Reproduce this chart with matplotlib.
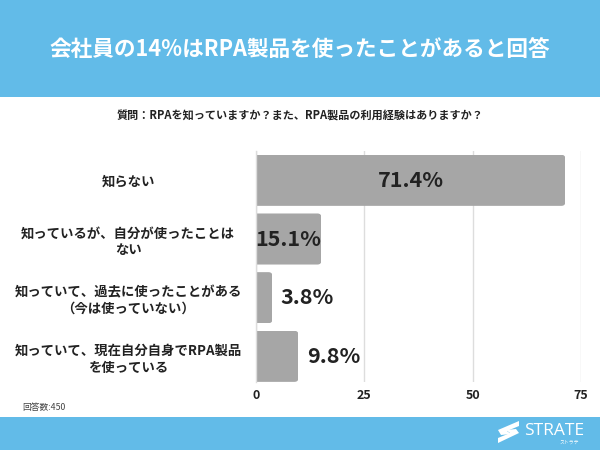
import matplotlib
matplotlib.use("Agg")
import matplotlib.pyplot as plt
from matplotlib.patches import FancyBboxPatch, Rectangle, Polygon

categories = ["知らない",
              "知っているが、自分が使ったことは\nない",
              "知っていて、過去に使ったことがある\n（今は使っていない）",
              "知っていて、現在自分自身でRPA製品\nを使っている"]
values = [71.4, 15.1, 3.8, 9.8]
value_labels = ["71.4%", "15.1%", "3.8%", "9.8%"]
xticks = [0, 25, 50, 75]
title = "会社員の14%はRPA製品を使ったことがあると回答"
question = "質問：RPAを知っていますか？また、RPA製品の利用経験はありますか？"
note = "回答数:450"

BLUE = "#62BBE8"
BAR = "#A6A6A6"
TXT = "#222222"
W, H = 600, 450
plt.rcParams["font.family"] = "Noto Sans CJK JP"

fig = plt.figure(figsize=(6, 4.5), dpi=100, facecolor="white")
def fx(p): return p / W
def fy(p): return 1 - p / H

fig.add_artist(Rectangle((0, fy(97)), 1, 97 / H, transform=fig.transFigure, color=BLUE, lw=0))
fig.add_artist(Rectangle((0, 0), 1, 33 / H, transform=fig.transFigure, color=BLUE, lw=0))
fig.text(0.5, fy(50), title, color="white", fontsize=15.6, fontweight="bold", ha="center", va="center")
fig.text(fx(300), fy(116), question, color=TXT, fontsize=8, fontweight="bold", ha="center", va="center")
fig.text(fx(22), fy(407.5), note, color="#444444", fontsize=6.3, ha="left", va="center")

# logo
for pts in ([(498, 430), (519, 421), (519, 426), (507, 431), (511, 434), (501, 435)],
            [(519, 433), (498, 443), (498, 438), (510, 433), (506, 430), (516, 429)]):
    fig.add_artist(Polygon([(fx(a), fy(b)) for a, b in pts], transform=fig.transFigure, color="white", lw=0))
fig.text(fx(524), fy(431), "STRATE", color="white", fontsize=12.5, ha="left", va="center", family="Open Sans")
fig.text(fx(579), fy(442), "ストラテ", color="white", fontsize=3.5, ha="right", va="center")

L, R, T, B = 256, 581, 151, 382
ax = fig.add_axes([fx(L), fy(B), (R - L) / W, (B - T) / H])
n = len(values)
pitch = 58.67
ax.set_xlim(0, 75)
ax.set_ylim((B - T) / pitch - 0.5, -0.5)
ax.set_axisbelow(True)
ax.grid(axis="x", color="#DDDDDD", lw=1)
for s in ["top", "right", "bottom"]:
    ax.spines[s].set_visible(False)
ax.spines["left"].set_color("#DDDDDD")
ax.spines["left"].set_linewidth(1)

xpx = (R - L) / 75
bh = 0.87
rad = 4
bars = ax.barh(range(n), values, height=bh, color=BAR, lw=0)
for i, (bar, v) in enumerate(zip(bars, values)):
    clip = FancyBboxPatch((-3, i - bh / 2), v + 3, bh,
                          boxstyle=f"round,pad=0,rounding_size={rad / xpx}",
                          mutation_aspect=xpx / pitch, transform=ax.transData,
                          fc="none", ec="none")
    ax.add_patch(clip)
    bar.set_clip_path(clip)
    if v > 12:
        ax.text(v / 2, i, value_labels[i], ha="center", va="center", fontsize=15.5,
                fontweight="bold", color=TXT)
    else:
        ax.annotate(value_labels[i], (v, i), xytext=(6, 0), textcoords="offset points",
                    ha="left", va="center", fontsize=15.5, fontweight="bold", color=TXT)

ax.set_yticks(range(n))
ax.set_yticklabels(categories, fontsize=9.6, fontweight="bold", color=TXT, ha="center",
                   multialignment="center", linespacing=1.25)
ax.tick_params(axis="y", length=0, pad=92)
ax.set_xticks(xticks)
ax.set_xticklabels([str(t) for t in xticks], fontsize=9, fontweight="bold", color=TXT)
ax.tick_params(axis="x", length=0, pad=5)

fig.savefig("out.png", dpi=100)
